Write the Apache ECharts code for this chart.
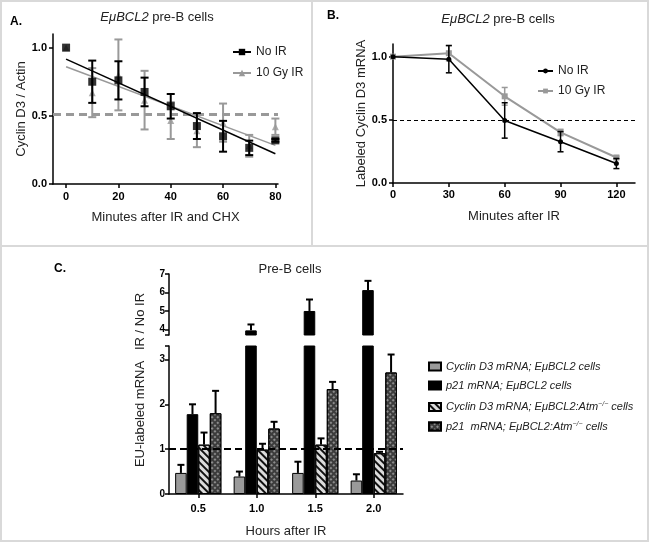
<!DOCTYPE html>
<html><head><meta charset="utf-8">
<script src="https://cdn.jsdelivr.net/npm/echarts@6/dist/echarts.min.js"></script>
<style>html,body{margin:0;padding:0;background:#fff}#c{width:649px;height:542px}</style>
</head><body><div id="c"></div><script>
// ---------- Panel A data ----------
const aMinutes = [0, 10, 20, 30, 40, 50, 60, 70, 80];
const aNoIR = [1.0, 0.75, 0.76, 0.675, 0.57, 0.425, 0.35, 0.265, 0.32];
const aNoIRErr = [0, 0.155, 0.14, 0.105, 0.09, 0.095, 0.113, 0.053, 0.01];
const aIR = [1.0, 0.67, 0.80, 0.615, 0.465, 0.39, 0.45, 0.28, 0.42];
const aIRErr = [0, 0.18, 0.26, 0.215, 0.135, 0.12, 0.14, 0.08, 0.06];
const aFitX = [0, 80];
const aNoIRFit = [0.916, 0.222];
const aIRFit = [0.86, 0.283];
const aHalf = 0.51;
const aXTicks = [0, 20, 40, 60, 80];
const aYTicks = [0, 0.5, 1.0];
// ---------- Panel B data ----------
const bMinutes = [0, 30, 60, 90, 120];
const bNoIR = [1.0, 0.98, 0.495, 0.327, 0.154];
const bNoIRErr = [0, 0.108, 0.14, 0.08, 0.04];
const bIR = [1.0, 1.027, 0.686, 0.40, 0.202];
const bIRErr = [0, 0.06, 0.07, 0.025, 0.01];
const bHalf = 0.5;
const bXTicks = [0, 30, 60, 90, 120];
const bYTicks = [0, 0.5, 1.0];
// ---------- Panel C data ----------
const cHours = ['0.5', '1.0', '1.5', '2.0'];
const cCycBcl2 = [0.47, 0.39, 0.47, 0.30];
const cCycBcl2Err = [0.18, 0.11, 0.25, 0.14];
const cP21Bcl2 = [1.78, 3.95, 5.0, 6.13];
const cP21Bcl2Err = [0.22, 0.32, 0.62, 0.5];
const cCycAtm = [1.1, 0.99, 1.1, 0.91];
const cCycAtmErr = [0.27, 0.13, 0.14, 0.03];
const cP21Atm = [1.8, 1.46, 2.34, 2.71];
const cP21AtmErr = [0.5, 0.15, 0.16, 0.4];
const cRef = 1;
const cLowTicks = [0, 1, 2, 3];
const cHighTicks = [4, 5, 6, 7];
const cLowMax = 3.3, cHighMin = 3.7, cHighMax = 7;
const cNames = ['Cyclin D3 mRNA; EμBCL2 cells', 'p21 mRNA; EμBCL2 cells',
  'Cyclin D3 mRNA; EμBCL2:Atm-/- cells', 'p21  mRNA; EμBCL2:Atm-/- cells'];

const FF = 'Liberation Sans, Arial, sans-serif';
const GRAY = '#999999';
const CAT_GAP = 0.21;

function merge(a, b) {
  const o = JSON.parse(JSON.stringify(a));
  for (const k in b) {
    if (b[k] && typeof b[k] === 'object' && !Array.isArray(b[k]) && o[k] && typeof o[k] === 'object') o[k] = merge(o[k], b[k]);
    else o[k] = b[k];
  }
  return o;
}
const axisBase = {
  axisLine: {show: true, onZero: false, lineStyle: {color: '#000', width: 1.5}},
  axisTick: {show: true, length: 4, lineStyle: {color: '#000', width: 1.5}},
  axisLabel: {color: '#000', fontWeight: 'bold', fontSize: 11, fontFamily: FF, margin: 6},
  splitLine: {show: false},
  nameTextStyle: {color: '#222', fontSize: 13, fontFamily: FF}
};

function vErr(color, lw, cap) {
  return function (params, api) {
    const x = api.value(0), y = api.value(1), e = api.value(2);
    if (!e) return {type: 'group', children: []};
    const t = api.coord([x, y + e]), b = api.coord([x, y - e]);
    const st = {stroke: color, lineWidth: lw};
    return {type: 'group', children: [
      {type: 'line', shape: {x1: t[0], y1: t[1], x2: b[0], y2: b[1]}, style: st},
      {type: 'line', shape: {x1: t[0] - cap, y1: t[1], x2: t[0] + cap, y2: t[1]}, style: st},
      {type: 'line', shape: {x1: b[0] - cap, y1: b[1], x2: b[0] + cap, y2: b[1]}, style: st}
    ]};
  };
}
function upErr(pos) {
  return function (params, api) {
    const i = api.value(0), v = api.value(1), e = api.value(2);
    const band = api.size([1, 0])[0];
    const bw = band * (1 - CAT_GAP) / 4;
    const off = (pos - 1.5) * bw;
    const p0 = api.coord([i, v]), p1 = api.coord([i, v + e]);
    const x = p0[0] + off;
    const st = {stroke: '#000', lineWidth: 2};
    return {type: 'group', children: [
      {type: 'line', shape: {x1: x, y1: p0[1], x2: x, y2: p1[1]}, style: st},
      {type: 'line', shape: {x1: x - 3.5, y1: p1[1], x2: x + 3.5, y2: p1[1]}, style: st}
    ]};
  };
}

const cVals = [cCycBcl2, cP21Bcl2, cCycAtm, cP21Atm];
const cErrs = [cCycBcl2Err, cP21Bcl2Err, cCycAtmErr, cP21AtmErr];
const cStyles = [
  {color: '#9a9a9a', borderColor: '#000', borderWidth: 1},
  {color: '#000', borderColor: '#000', borderWidth: 1},
  {color: '#dcdcdc', borderColor: '#000', borderWidth: 1,
    decal: {symbol: 'rect', symbolSize: 1, color: '#111', dashArrayX: [1, 0], dashArrayY: [1.5, 2.5], rotation: Math.PI / 4}},
  {color: '#3c3c3c', borderColor: '#000', borderWidth: 1,
    decal: {symbol: 'rect', symbolSize: 1, color: '#8c8c8c', dashArrayX: [2, 2], dashArrayY: [2, 2], rotation: Math.PI / 4}}
];

const series = [];
// ----- Panel A -----
series.push({type: 'custom', xAxisIndex: 0, yAxisIndex: 0, renderItem: vErr(GRAY, 2, 4),
  data: aMinutes.map((x, i) => [x, aIR[i], aIRErr[i]]), z: 2});
series.push({type: 'scatter', name: 'aIRpts', xAxisIndex: 0, yAxisIndex: 0, symbol: 'triangle', symbolSize: 7,
  itemStyle: {color: GRAY}, data: aMinutes.map((x, i) => [x, aIR[i]]), z: 3});
series.push({type: 'line', name: '10 Gy IR', xAxisIndex: 0, yAxisIndex: 0, symbol: 'triangle', symbolSize: 7, showSymbol: false,
  itemStyle: {color: GRAY}, lineStyle: {color: GRAY, width: 1.5},
  data: aFitX.map((x, i) => [x, aIRFit[i]]), z: 4,
  markLine: {silent: true, symbol: 'none', label: {show: false}, lineStyle: {color: GRAY, width: 3, type: [8, 5]}, data: [{yAxis: aHalf}]}});
series.push({type: 'custom', xAxisIndex: 0, yAxisIndex: 0, renderItem: vErr('#000', 2, 4),
  data: aMinutes.map((x, i) => [x, aNoIR[i], aNoIRErr[i]]), z: 5});
series.push({type: 'scatter', name: 'aNoIRpts', xAxisIndex: 0, yAxisIndex: 0, symbol: 'rect', symbolSize: 8,
  itemStyle: {color: '#000'}, data: aMinutes.map((x, i) => [x, aNoIR[i]]), z: 6});
series.push({type: 'line', name: 'No IR', xAxisIndex: 0, yAxisIndex: 0, symbol: 'rect', symbolSize: 8, showSymbol: false,
  itemStyle: {color: '#000'}, lineStyle: {color: '#000', width: 1.5},
  data: aFitX.map((x, i) => [x, aNoIRFit[i]]), z: 7});
// ----- Panel B -----
series.push({type: 'custom', xAxisIndex: 1, yAxisIndex: 1, renderItem: vErr(GRAY, 1.5, 3),
  data: bMinutes.map((x, i) => [x, bIR[i], bIRErr[i]]), z: 2});
series.push({type: 'line', name: '10 Gy IR (B)', xAxisIndex: 1, yAxisIndex: 1, symbol: 'rect', symbolSize: 6,
  itemStyle: {color: GRAY}, lineStyle: {color: GRAY, width: 2},
  data: bMinutes.map((x, i) => [x, bIR[i]]), z: 3,
  markLine: {silent: true, symbol: 'none', label: {show: false}, lineStyle: {color: '#000', width: 1, type: [4, 3]}, data: [{yAxis: bHalf}]}});
series.push({type: 'custom', xAxisIndex: 1, yAxisIndex: 1, renderItem: vErr('#000', 1.5, 3),
  data: bMinutes.map((x, i) => [x, bNoIR[i], bNoIRErr[i]]), z: 4});
series.push({type: 'line', name: 'No IR (B)', xAxisIndex: 1, yAxisIndex: 1, symbol: 'circle', symbolSize: 5,
  itemStyle: {color: '#000'}, lineStyle: {color: '#000', width: 1.5},
  data: bMinutes.map((x, i) => [x, bNoIR[i]]), z: 5});
// ----- Panel C lower -----
cVals.forEach((vals, k) => {
  const s = {type: 'bar', name: cNames[k], xAxisIndex: 3, yAxisIndex: 3, barGap: '0%', barCategoryGap: (CAT_GAP * 100) + '%',
    itemStyle: cStyles[k], data: vals.slice(), clip: true, z: 2};
  if (k === 3) s.markLine = {silent: true, symbol: 'none', label: {show: false}, z: 10,
    lineStyle: {color: '#000', width: 2, type: [7, 4]}, data: [{yAxis: cRef}]};
  series.push(s);
});
cVals.forEach((vals, k) => {
  series.push({type: 'bar', name: cNames[k], xAxisIndex: 2, yAxisIndex: 2, barGap: '0%', barCategoryGap: (CAT_GAP * 100) + '%',
    itemStyle: cStyles[k], data: vals.map(v => v > cHighMin ? v : '-'), clip: true, z: 2});
});
cVals.forEach((vals, k) => {
  series.push({type: 'custom', xAxisIndex: 3, yAxisIndex: 3, renderItem: upErr(k), z: 3,
    data: vals.map((v, i) => [i, v, cErrs[k][i]]).filter(d => d[1] + d[2] < cLowMax)});
  series.push({type: 'custom', xAxisIndex: 2, yAxisIndex: 2, renderItem: upErr(k), z: 3,
    data: vals.map((v, i) => [i, v, cErrs[k][i]]).filter(d => d[1] > cHighMin)});
});

const option = {
  animation: false,
  backgroundColor: '#fff',
  textStyle: {fontFamily: FF},
  grid: [
    {left: 53, top: 34, width: 225, height: 150, outerBoundsMode: 'none'},
    {left: 393, top: 44, width: 242, height: 139, outerBoundsMode: 'none'},
    {left: 169, top: 274, width: 234, height: 61, outerBoundsMode: 'none'},
    {left: 169, top: 346, width: 234, height: 148, outerBoundsMode: 'none'}
  ],
  xAxis: [
    merge(axisBase, {type: 'value', gridIndex: 0, min: -5, max: 81, name: 'Minutes after IR and CHX', nameLocation: 'middle', nameGap: 27,
      axisLabel: {customValues: aXTicks, margin: 7}, axisTick: {customValues: aXTicks}}),
    merge(axisBase, {type: 'value', gridIndex: 1, min: 0, max: 130, name: 'Minutes after IR', nameLocation: 'middle', nameGap: 27,
      axisLabel: {customValues: bXTicks}, axisTick: {customValues: bXTicks}}),
    {type: 'category', gridIndex: 2, data: cHours, show: false},
    merge(axisBase, {type: 'category', gridIndex: 3, data: cHours, name: 'Hours after IR', nameLocation: 'middle', nameGap: 31,
      axisTick: {alignWithLabel: true, length: 4}, axisLabel: {margin: 9}})
  ],
  yAxis: [
    merge(axisBase, {type: 'value', gridIndex: 0, min: 0, max: 1.1, name: 'Cyclin D3 / Actin', nameLocation: 'middle', nameGap: 25,
      axisLabel: {customValues: aYTicks, formatter: v => v.toFixed(1)}, axisTick: {customValues: aYTicks}}),
    merge(axisBase, {type: 'value', gridIndex: 1, min: 0, max: 1.1, name: 'Labeled Cyclin D3 mRNA', nameLocation: 'middle', nameGap: 25,
      axisLabel: {customValues: bYTicks, formatter: v => v.toFixed(1)}, axisTick: {customValues: bYTicks}}),
    merge(axisBase, {type: 'value', gridIndex: 2, min: cHighMin, max: cHighMax,
      axisLabel: {customValues: cHighTicks, fontSize: 10, margin: 4}, axisTick: {customValues: cHighTicks.concat([cHighMin])}}),
    merge(axisBase, {type: 'value', gridIndex: 3, min: 0, max: cLowMax,
      axisLabel: {customValues: cLowTicks, fontSize: 10, margin: 4}, axisTick: {customValues: cLowTicks.concat([cLowMax])}})
  ],
  legend: [
    {data: ['No IR', '10 Gy IR'], orient: 'vertical', left: 227, top: 41, itemWidth: 18, itemHeight: 8, itemGap: 9,
      selectedMode: false, textStyle: {fontSize: 12, color: '#222', fontFamily: FF}},
    {data: ['No IR (B)', '10 Gy IR (B)'], orient: 'vertical', left: 532, top: 60, itemWidth: 15, itemHeight: 6, itemGap: 8,
      selectedMode: false, formatter: n => n.replace(' (B)', ''), textStyle: {fontSize: 12, color: '#222', fontFamily: FF}},
    {data: [cNames[0], cNames[1]], orient: 'vertical', left: 423, top: 356, itemWidth: 12, itemHeight: 8, itemGap: 8, icon: 'rect',
      selectedMode: false, formatter: n => n.replace('-/-', '{sup|−/−}'),
      textStyle: {fontSize: 11, fontStyle: 'italic', color: '#222', fontFamily: FF,
        rich: {sup: {fontSize: 7, fontStyle: 'italic', color: '#444', fontFamily: FF, padding: [0, 0, 5, 0]}}}},
    {data: [cNames[2], cNames[3]], orient: 'vertical', left: 423, top: 396, itemWidth: 12, itemHeight: 8, itemGap: 8, icon: 'rect',
      selectedMode: false, formatter: n => n.replace('-/-', '{sup|−/−}'),
      textStyle: {fontSize: 11, fontStyle: 'italic', color: '#222', fontFamily: FF,
        rich: {sup: {fontSize: 7, fontStyle: 'italic', color: '#444', fontFamily: FF, padding: [0, 0, 5, 0]}}}}
  ],
  graphic: [
    {type: 'rect', shape: {x: 1, y: 1, width: 647, height: 540}, style: {fill: 'none', stroke: '#d9d9d9', lineWidth: 2}, silent: true},
    {type: 'line', shape: {x1: 312, y1: 0, x2: 312, y2: 246}, style: {stroke: '#d9d9d9', lineWidth: 2}, silent: true},
    {type: 'line', shape: {x1: 0, y1: 246, x2: 649, y2: 246}, style: {stroke: '#d9d9d9', lineWidth: 2}, silent: true},
    {type: 'text', x: 10, y: 22, style: {text: 'A.', font: 'bold 12px ' + FF, fill: '#000', verticalAlign: 'middle'}},
    {type: 'text', x: 327, y: 16, style: {text: 'B.', font: 'bold 12px ' + FF, fill: '#000', verticalAlign: 'middle'}},
    {type: 'text', x: 54, y: 269, style: {text: 'C.', font: 'bold 12px ' + FF, fill: '#000', verticalAlign: 'middle'}},
    {type: 'text', x: 157, y: 17, style: {text: '{i|EμBCL2} pre-B cells', fontSize: 13, fontFamily: FF, fill: '#222', align: 'center', verticalAlign: 'middle',
      rich: {i: {fontStyle: 'italic', fontSize: 13, fontFamily: FF, fill: '#222'}}}},
    {type: 'text', x: 498, y: 19, style: {text: '{i|EμBCL2} pre-B cells', fontSize: 13, fontFamily: FF, fill: '#222', align: 'center', verticalAlign: 'middle',
      rich: {i: {fontStyle: 'italic', fontSize: 13, fontFamily: FF, fill: '#222'}}}},
    {type: 'text', x: 290, y: 269, style: {text: 'Pre-B cells', fontSize: 13, fontFamily: FF, fill: '#222', align: 'center', verticalAlign: 'middle'}},
    {type: 'text', x: 140, y: 380, rotation: Math.PI / 2, style: {text: 'EU-labeled mRNA   IR / No IR', fontSize: 13, fontFamily: FF, fill: '#222', align: 'center', verticalAlign: 'middle'}}
  ],
  series: series
};
const chart = echarts.init(document.getElementById('c'));
chart.setOption(option);
</script></body></html>
